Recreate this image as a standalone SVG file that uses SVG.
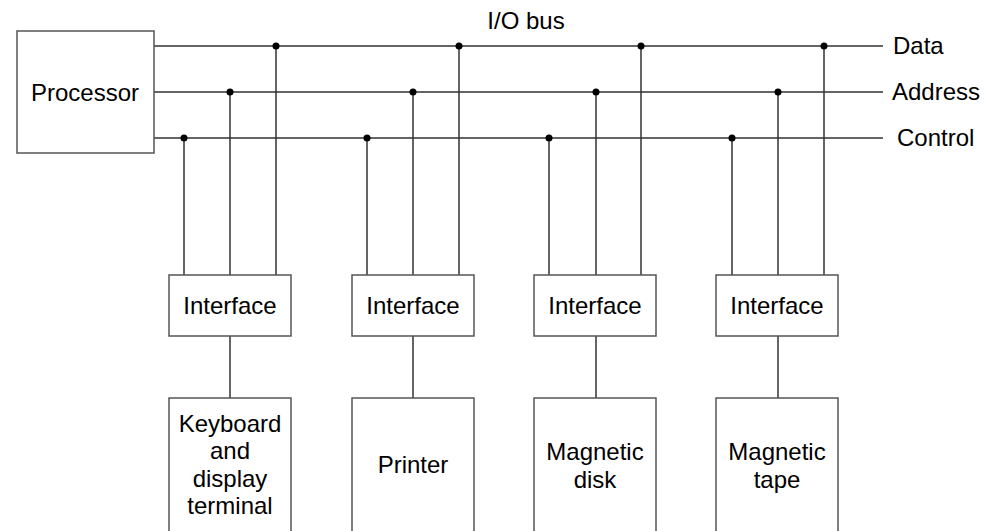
<svg xmlns="http://www.w3.org/2000/svg" width="984" height="531" viewBox="0 0 984 531">
<style>
.box{fill:#fff;stroke:#555;stroke-width:1.5}
.ln{stroke:#333;stroke-width:1.5;fill:none}
.dot{fill:#000}
text{font-family:"Liberation Sans",Arial,sans-serif;font-size:24px;fill:#000}
.c{text-anchor:middle}
</style>
<rect width="984" height="531" fill="#fff"/>
<g id="connectors">
<path class="ln" d="M154 46H883M154 92H883M154 138H883"/>
<path class="ln" d="M184 138V275M230 92V275M276 46V275M230 336V398"/>
<path class="ln" d="M367 138V275M413 92V275M459 46V275M413 336V398"/>
<path class="ln" d="M549 138V275M596 92V275M641 46V275M596 336V398"/>
<path class="ln" d="M732 138V275M778 92V275M824 46V275M778 336V398"/>
<circle class="dot" cx="184" cy="138" r="3.5"/><circle class="dot" cx="230" cy="92" r="3.5"/><circle class="dot" cx="276" cy="46" r="3.5"/>
<circle class="dot" cx="367" cy="138" r="3.5"/><circle class="dot" cx="413" cy="92" r="3.5"/><circle class="dot" cx="459" cy="46" r="3.5"/>
<circle class="dot" cx="549" cy="138" r="3.5"/><circle class="dot" cx="596" cy="92" r="3.5"/><circle class="dot" cx="641" cy="46" r="3.5"/>
<circle class="dot" cx="732" cy="138" r="3.5"/><circle class="dot" cx="778" cy="92" r="3.5"/><circle class="dot" cx="824" cy="46" r="3.5"/>
</g>
<g id="labels">
<text x="526" y="29" class="c">I/O bus</text>
<text x="893" y="54">Data</text>
<text x="892" y="100">Address</text>
<text x="897" y="146">Control</text>
</g>
<g id="processor"><rect class="box" x="17" y="31" width="137" height="122"/><text x="85" y="101" class="c">Processor</text></g>
<g id="interface1"><rect class="box" x="169" y="275" width="122" height="61"/><text x="230" y="314" class="c">Interface</text></g>
<g id="interface2"><rect class="box" x="352" y="275" width="122" height="61"/><text x="413" y="314" class="c">Interface</text></g>
<g id="interface3"><rect class="box" x="534" y="275" width="122" height="61"/><text x="595" y="314" class="c">Interface</text></g>
<g id="interface4"><rect class="box" x="716" y="275" width="122" height="61"/><text x="777" y="314" class="c">Interface</text></g>
<g id="keyboard"><rect class="box" x="169" y="398" width="122" height="140"/><text class="c" x="230"><tspan x="230" y="432">Keyboard</tspan><tspan x="230" y="459">and</tspan><tspan x="230" y="487">display</tspan><tspan x="230" y="514">terminal</tspan></text></g>
<g id="printer"><rect class="box" x="352" y="398" width="122" height="140"/><text x="413" y="473" class="c">Printer</text></g>
<g id="disk"><rect class="box" x="534" y="398" width="122" height="140"/><text class="c" x="595"><tspan x="595" y="460">Magnetic</tspan><tspan x="595" y="488">disk</tspan></text></g>
<g id="tape"><rect class="box" x="716" y="398" width="122" height="140"/><text class="c" x="777"><tspan x="777" y="460">Magnetic</tspan><tspan x="777" y="488">tape</tspan></text></g>
</svg>
